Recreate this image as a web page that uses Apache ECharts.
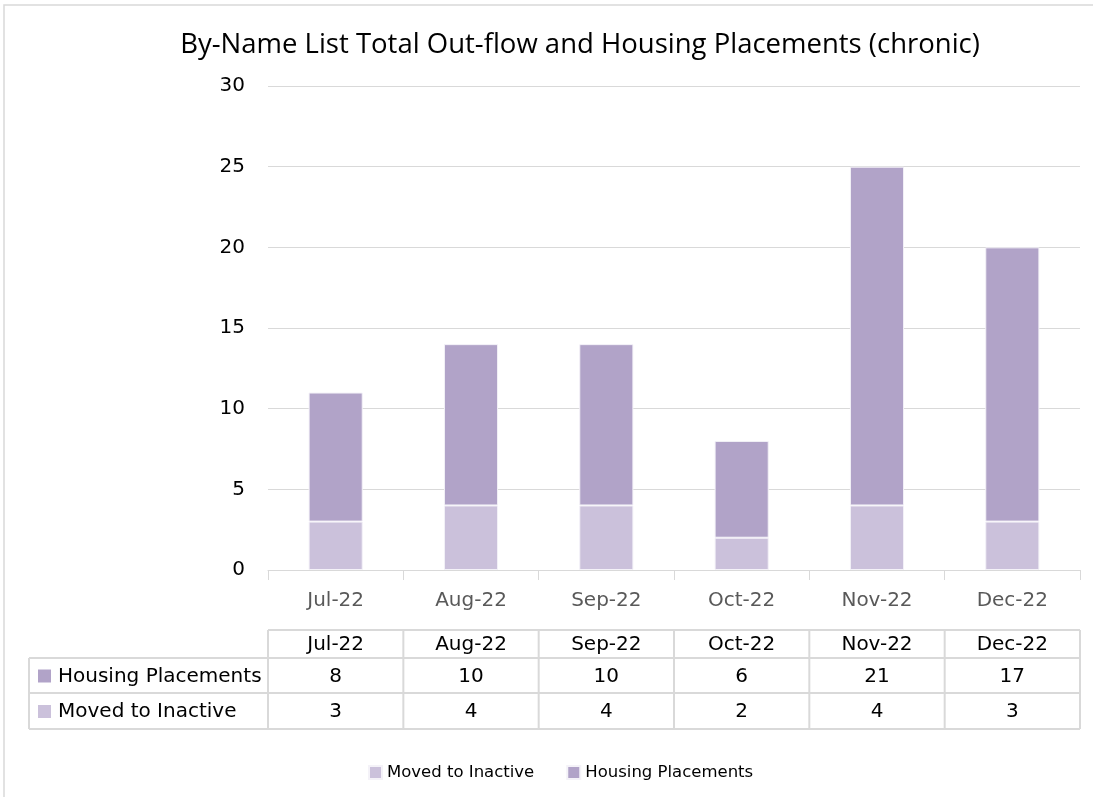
<!DOCTYPE html>
<html>
<head>
<meta charset="utf-8">
<script src="https://cdn.jsdelivr.net/npm/echarts@6/dist/echarts.min.js"></script>
<style>
  html, body { margin: 0; padding: 0; background: #fff; }
  #main { width: 1093px; height: 797px; }
</style>
</head>
<body>
<div id="main"></div>
<script>
var months = ['Jul-22', 'Aug-22', 'Sep-22', 'Oct-22', 'Nov-22', 'Dec-22'];
var housingPlacements = [8, 10, 10, 6, 21, 17];
var movedToInactive = [3, 4, 4, 2, 4, 3];
var yTicks = [0, 5, 10, 15, 20, 25, 30];

var colHousing = '#b1a3c8';
var colMoved = '#cbc1db';
var lineCol = '#d9d9d9';
var font = '"DejaVu Sans", sans-serif';
var titleFont = '"Open Sans", sans-serif';

var chartDom = document.getElementById('main');
var myChart = echarts.init(chartDom);
var option = {
  animation: false,
  title: {
    text: 'By-Name List Total Out-flow and Housing Placements (chronic)',
    left: 575,
    top: 26,
    textAlign: 'center',
    textStyle: { fontFamily: titleFont, fontSize: 27.5, fontWeight: 'normal', color: '#000' }
  },
  legend: {
    data: ['Moved to Inactive', 'Housing Placements'],
    bottom: 11,
    left: 363,
    icon: 'rect',
    itemWidth: 13,
    itemHeight: 13,
    itemGap: 32,
    textStyle: { fontFamily: font, fontSize: 16.5, color: '#000' }
  },
  grid: { left: 268, right: 13, top: 86, bottom: 227 },
  xAxis: {
    type: 'category',
    data: months,
    axisLine: { lineStyle: { color: lineCol } },
    axisTick: { show: true, length: 10, lineStyle: { color: lineCol } },
    axisLabel: { fontFamily: font, fontSize: 20, color: '#595959', margin: 21 }
  },
  yAxis: {
    type: 'value',
    min: yTicks[0],
    max: yTicks[yTicks.length - 1],
    interval: 5,
    axisLine: { show: false },
    axisTick: { show: false },
    splitLine: { lineStyle: { color: lineCol } },
    axisLabel: { fontFamily: font, fontSize: 20, color: '#000', margin: 23 }
  },
  series: [
    {
      type: 'bar', name: 'Moved to Inactive', stack: 'total', data: movedToInactive,
      barWidth: '40%',
      itemStyle: { color: colMoved, borderColor: '#f4f2f8', borderWidth: 1 }
    },
    {
      type: 'bar', name: 'Housing Placements', stack: 'total', data: housingPlacements,
      itemStyle: { color: colHousing, borderColor: '#f4f2f8', borderWidth: 1 }
    }
  ]
};
myChart.setOption(option);

// data table under the axis
function buildTable() {
  var g = [];
  var x0 = 268, x1 = 1080, labelLeft = 29;
  var rowY = [630, 658, 693, 729];
  var cw = (x1 - x0) / months.length;
  var ln = { stroke: lineCol, lineWidth: 2 };

  g.push({ type: 'rect', shape: { x: 4, y: 5, width: 1200, height: 1000 },
    style: { fill: null, stroke: lineCol, lineWidth: 1.5 }, silent: true });

  // horizontal lines
  g.push({ type: 'line', shape: { x1: x0, y1: rowY[0], x2: x1, y2: rowY[0] }, style: ln });
  for (var r = 1; r < rowY.length; r++) {
    g.push({ type: 'line', shape: { x1: labelLeft, y1: rowY[r], x2: x1, y2: rowY[r] }, style: ln });
  }
  g.push({ type: 'line', shape: { x1: labelLeft, y1: rowY[1], x2: labelLeft, y2: rowY[3] }, style: ln });
  for (var c = 0; c <= months.length; c++) {
    var xx = x0 + c * cw;
    g.push({ type: 'line', shape: { x1: xx, y1: rowY[0], x2: xx, y2: rowY[3] }, style: ln });
  }

  var rows = [
    { name: 'Housing Placements', color: colHousing, vals: housingPlacements },
    { name: 'Moved to Inactive', color: colMoved, vals: movedToInactive }
  ];
  var ts = function (t, x, y, align) {
    return { type: 'text', x: x, y: y,
      style: { text: t, fontFamily: font, fontSize: 20, fill: '#000', align: align, verticalAlign: 'middle' } };
  };

  months.forEach(function (m, i) {
    var cx = myChart.convertToPixel({ xAxisIndex: 0 }, m);
    g.push(ts(m, cx, (rowY[0] + rowY[1]) / 2 + 1, 'center'));
    rows.forEach(function (row, k) {
      g.push(ts(String(row.vals[i]), cx, (rowY[k + 1] + rowY[k + 2]) / 2 + 1, 'center'));
    });
  });
  rows.forEach(function (row, k) {
    var cy = (rowY[k + 1] + rowY[k + 2]) / 2;
    g.push({ type: 'rect', shape: { x: 38, y: cy - 6, width: 13, height: 13 }, style: { fill: row.color } });
    g.push(ts(row.name, 58, cy + 1, 'left'));
  });
  myChart.setOption({ graphic: g });
}
buildTable();
</script>
</body>
</html>
